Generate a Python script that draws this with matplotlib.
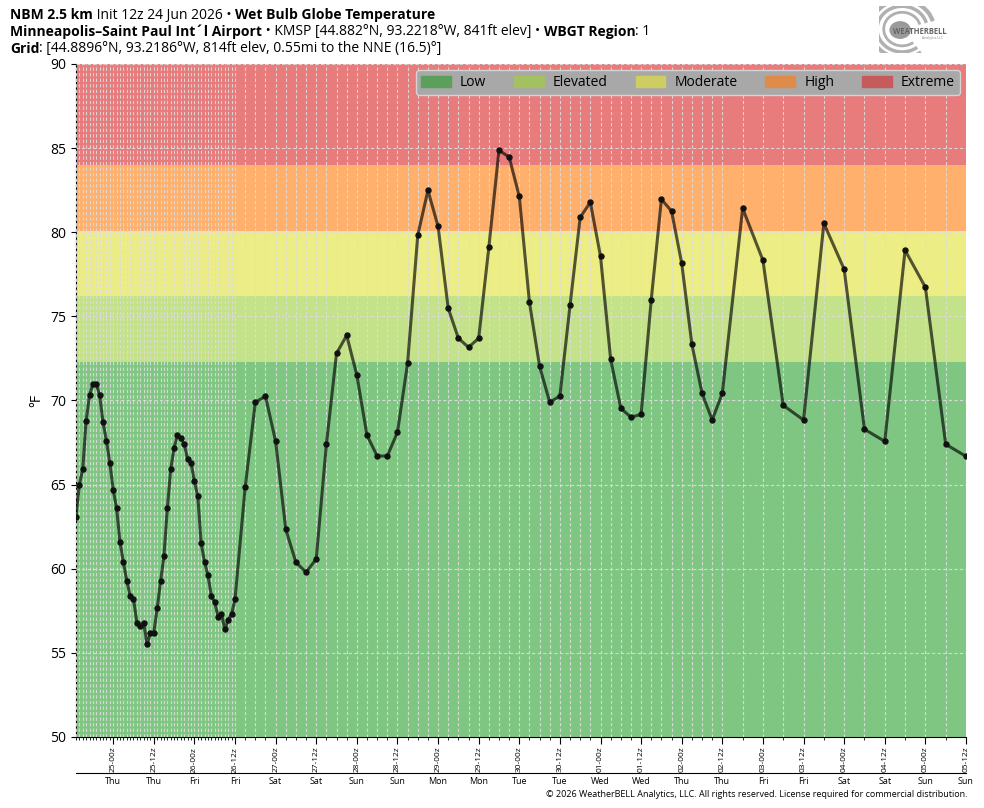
import matplotlib
matplotlib.use('Agg')
import matplotlib.pyplot as plt
import matplotlib.patches as mpatches
import matplotlib.dates as mdates
import pandas as pd

plt.rcParams['font.family'] = ['Open Sans', 'DejaVu Sans']

# WBGT (°F) - hourly, then 3-hourly, then 6-hourly
wbgt_hourly = [63.1, 65.0, 65.9, 68.8, 70.3, 71.0, 71.0, 70.3, 68.7, 67.6, 66.3, 64.7,
               63.6, 61.6, 60.4, 59.3, 58.4, 58.2, 56.8, 56.6, 56.8, 55.5, 56.2, 56.2,
               57.65, 59.25, 60.76, 63.6, 65.9, 67.2, 67.95, 67.75, 67.4, 66.5, 66.3, 65.2,
               64.3, 61.5, 60.4, 59.6, 58.4, 58.0, 57.15, 57.3, 56.4, 56.95, 57.3, 58.2]
wbgt_3h = [64.84, 69.89, 70.25, 67.57, 62.34, 60.38, 59.79, 60.58, 67.4, 72.8, 73.87, 71.5,
           67.93, 66.7, 66.7, 68.11, 72.22, 79.82, 82.49, 80.35, 75.48, 73.7, 73.16, 73.7,
           79.1, 84.87, 84.47, 82.13, 75.84, 72.03, 69.89, 70.27, 75.66, 80.89, 81.78, 78.57,
           72.45, 69.54, 69.0, 69.18, 76.0, 81.96, 81.25, 78.15, 73.34, 70.43, 68.84, 70.43]
wbgt_6h = [81.42, 78.33, 69.71, 68.84, 80.53, 77.8, 68.29, 67.57, 78.93, 76.73, 67.4, 66.68]

times = (list(pd.date_range('2026-06-24 13:00', periods=len(wbgt_hourly), freq='h')) +
         list(pd.date_range('2026-06-26 15:00', periods=len(wbgt_3h), freq='3h')) +
         list(pd.date_range('2026-07-02 18:00', periods=len(wbgt_6h), freq='6h')))
wbgt = wbgt_hourly + wbgt_3h + wbgt_6h

major_times = pd.date_range('2026-06-25 00:00', '2026-07-05 12:00', freq='12h')
major_labels = [t.strftime('%d-%Hz') for t in major_times]
day_labels = [t.strftime('%a') for t in major_times]

# WBGT risk categories
levels = [50, 72.3, 76.2, 80.1, 84.0, 90]
cat_names = ['Low', 'Elevated', 'Moderate', 'High', 'Extreme']
band_colors = ['#80c683', '#c4e289', '#eded86', '#ffb06c', '#e87b7c']
legend_colors = ['#5b9f5b', '#a4c161', '#cdcd62', '#df8c4a', '#c75b5b']

x = mdates.date2num(times)
xmaj = mdates.date2num(major_times)

fig = plt.figure(figsize=(9.84, 8.08), dpi=100)
ax = fig.add_axes([0.0772, 0.0879, 0.9045, 0.8329])

for i in range(5):
    ax.axhspan(levels[i], levels[i + 1], color=band_colors[i], zorder=0, lw=0)

ax.plot(x, wbgt, color='black', alpha=0.65, lw=2.2, zorder=3)
ax.plot(x, wbgt, ls='none', marker='o', ms=3.6, color='#111111', zorder=4)

ax.set_xlim(x[0], x[-1])
ax.set_ylim(50, 90)
ax.set_yticks(range(50, 91, 5))
ax.tick_params(axis='y', labelsize=10)
ax.set_ylabel('°F', fontsize=10)

ax.set_xticks(xmaj)
ax.set_xticklabels(major_labels, rotation=90, fontsize=6)
ax.set_xticks(x, minor=True)
ax.tick_params(axis='x', which='major', length=5, pad=2)
ax.tick_params(axis='x', which='minor', length=2.5)

ax.xaxis.grid(True, which='both', ls=(0, (3, 2)), color='#dddddd', lw=0.8, alpha=0.9)
ax.yaxis.grid(True, which='major', ls=(0, (3, 2)), color='#dddddd', lw=0.8, alpha=0.9)
ax.set_axisbelow(False)
for gl in ax.get_xgridlines() + ax.get_ygridlines():
    gl.set_zorder(1)
ax.spines['top'].set_visible(False)
ax.spines['right'].set_visible(False)

sec = ax.secondary_xaxis(-0.054)
sec.set_xticks(xmaj)
sec.set_xticklabels(day_labels, fontsize=6.5)
sec.tick_params(length=0, pad=3)

handles = [mpatches.Patch(color=c, label=n) for c, n in zip(legend_colors, cat_names)]
leg = ax.legend(handles=handles, loc='upper right', ncol=5, fontsize=10,
                facecolor='#a8a8a8', edgecolor='#d4d4d4', framealpha=1,
                handlelength=2.15, handleheight=0.9, handletextpad=0.65,
                columnspacing=2.0, borderaxespad=0.45, borderpad=0.35)
leg.set_zorder(5)

# title lines with mixed weights
renderer = fig.canvas.get_renderer()


def title_line(y, parts):
    xpos = 0.0102
    for s, w in parts:
        t = fig.text(xpos, y, s, fontsize=10, fontweight=w, va='center', ha='left')
        bb = t.get_window_extent(renderer=renderer)
        xpos = fig.transFigure.inverted().transform((bb.x1, bb.y0))[0]


title_line(0.9814, [('NBM 2.5 km', 'bold'), (' Init 12z 24 Jun 2026 • ', 'normal'),
                    ('Wet Bulb Globe Temperature', 'bold')])
title_line(0.9604, [('Minneapolis–Saint Paul Int´l Airport', 'bold'),
                    (' • KMSP [44.882°N, 93.2218°W, 841ft elev] • ', 'normal'),
                    ('WBGT Region', 'bold'), (': 1', 'normal')])
title_line(0.9394, [('Grid', 'bold'),
                    (': [44.8896°N, 93.2186°W, 814ft elev, 0.55mi to the NNE (16.5)°]', 'normal')])

fig.text(0.9837, 0.0173,
         '© 2026 WeatherBELL Analytics, LLC. All rights reserved. License required for commercial distribution.',
         fontsize=6.5, ha='right', va='center')

# small logo
lax = fig.add_axes([0.893, 0.935, 0.068, 0.058])
lax.set_xlim(0, 1)
lax.set_ylim(0, 1)
lax.axis('off')
for r, lw in [(0.95, 3), (0.75, 2.5), (0.55, 2)]:
    lax.add_patch(mpatches.Arc((0.35, 0.5), r, r * 1.3, theta1=20, theta2=300,
                               color='#b0b0b0', lw=lw))
lax.add_patch(mpatches.Ellipse((0.32, 0.48), 0.3, 0.35, color='#9a9a9a'))
lax.text(0.62, 0.45, 'WEATHERBELL', fontsize=5.5, color='#666666', ha='center',
         va='center', fontweight='bold')
lax.text(0.8, 0.3, 'Analytics LLC', fontsize=2.5, color='#888888', ha='center', va='center')

fig.savefig('out.png', dpi=100)
